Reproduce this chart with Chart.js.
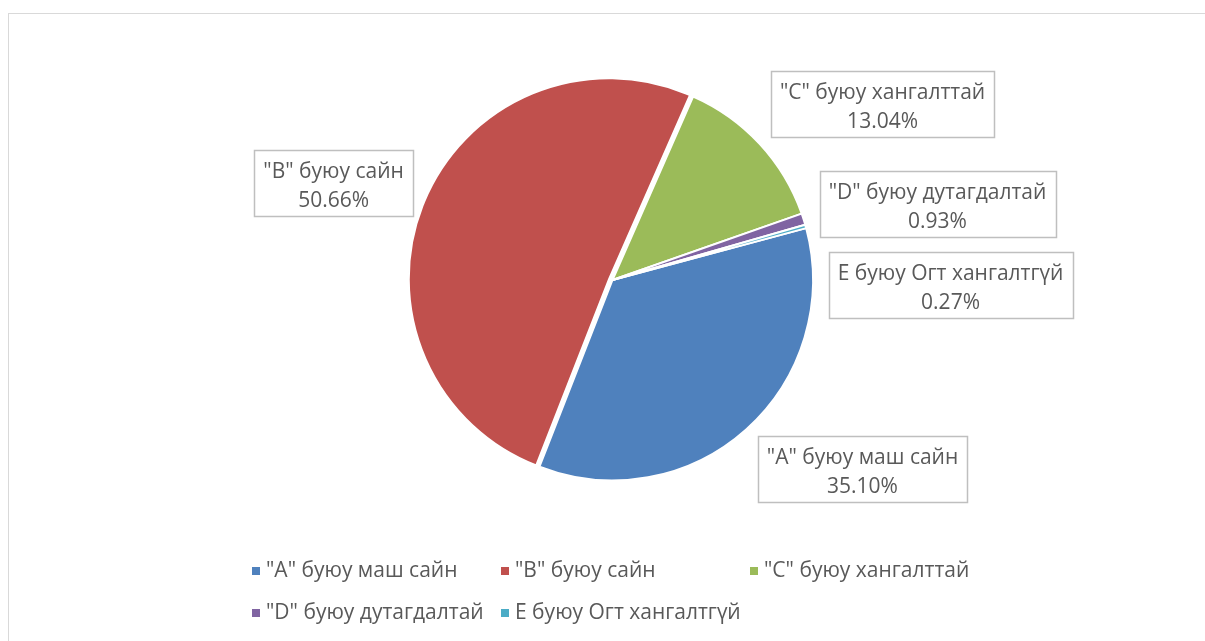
<!DOCTYPE html>
<html>
<head>
<meta charset="utf-8">
<script src="https://cdn.jsdelivr.net/npm/chart.js@4.4.0/dist/chart.umd.min.js"></script>
<style>
  body { margin:0; background:#fff; }
  #frame { position:absolute; left:8px; top:13px; width:1300px; height:700px; border:1px solid #d9d9d9; }
  #c { position:absolute; left:0; top:0; }
</style>
</head>
<body>
<div id="frame"></div>
<canvas id="c" width="1205" height="641"></canvas>
<script>
// data
const categories = ['"A" буюу маш сайн', '"B" буюу сайн', '"C" буюу хангалттай', '"D" буюу дутагдалтай', 'E буюу Огт хангалтгүй'];
const shares = [35.10, 50.66, 13.04, 0.93, 0.27];
const sliceColors = ['#4F81BD', '#C0504D', '#9BBB59', '#8064A2', '#4BACC6'];

// layout: label box centres relative to pie centre (in radii), exploded slice
const labelSpots = [[1.247, 0.945], [-1.391, -0.486], [1.347, -0.878], [1.621, -0.379], [1.686, 0.025]];
const explode = [0, 3.5, 0, 0, 0];
const FONT = '21px "Open Sans"';
const TEXT = '#595959';

// draw the arcs ourselves so one slice can be pulled out a bit
const explodePlugin = {
  id: 'explode',
  beforeDatasetDraw(chart, args) {
    const ctx = chart.ctx;
    args.meta.data.forEach((arc, i) => {
      const mid = (arc.startAngle + arc.endAngle) / 2;
      ctx.save();
      ctx.translate(Math.cos(mid) * explode[i], Math.sin(mid) * explode[i]);
      arc.draw(ctx);
      ctx.restore();
    });
    return false;
  }
};

// callout boxes with name + percent
const calloutPlugin = {
  id: 'callouts',
  afterDatasetsDraw(chart) {
    const ctx = chart.ctx;
    const meta = chart.getDatasetMeta(0);
    const vals = chart.data.datasets[0].data;
    const total = vals.reduce((a, b) => a + b, 0);
    ctx.save();
    ctx.font = FONT;
    ctx.textAlign = 'center';
    ctx.textBaseline = 'middle';
    meta.data.forEach((arc, i) => {
      const r = arc.outerRadius;
      const cx = arc.x + labelSpots[i][0] * r;
      const cy = arc.y + labelSpots[i][1] * r;
      const l1 = chart.data.labels[i];
      const l2 = (vals[i] / total * 100).toFixed(2) + '%';
      const w = Math.max(ctx.measureText(l1).width, ctx.measureText(l2).width) + 18;
      const h = 66;
      ctx.fillStyle = '#fff';
      ctx.fillRect(cx - w / 2, cy - h / 2, w, h);
      ctx.strokeStyle = '#bfbfbf';
      ctx.lineWidth = 1.5;
      ctx.strokeRect(Math.round(cx - w / 2) + 0.5, Math.round(cy - h / 2) + 0.5, Math.round(w), h);
      ctx.fillStyle = TEXT;
      ctx.fillText(l1, cx, cy - 11);
      ctx.fillText(l2, cx, cy + 18);
    });
    ctx.restore();
  }
};

// Excel-like legend: 3 columns, rows left aligned
const legendPlugin = {
  id: 'gridLegend',
  afterDraw(chart) {
    const ctx = chart.ctx;
    const left = 252, top = 571, colW = 249, rowH = 42;
    ctx.save();
    ctx.font = FONT;
    ctx.textBaseline = 'middle';
    ctx.textAlign = 'left';
    chart.data.labels.forEach((lab, i) => {
      const x = left + (i % 3) * colW;
      const y = top + Math.floor(i / 3) * rowH;
      ctx.fillStyle = chart.data.datasets[0].backgroundColor[i];
      ctx.fillRect(x, y - 4, 8, 8);
      ctx.fillStyle = TEXT;
      ctx.fillText(lab, x + 14, y);
    });
    ctx.restore();
  }
};

new Chart(document.getElementById('c'), {
  type: 'pie',
  data: {
    labels: categories,
    datasets: [{
      data: shares,
      backgroundColor: sliceColors,
      borderColor: '#ffffff',
      borderWidth: 2,
      radius: 200.5
    }]
  },
  options: {
    responsive: false,
    animation: false,
    devicePixelRatio: 1,
    rotation: 75,
    layout: { padding: { left: 200, right: 180, top: 70, bottom: 151 } },
    plugins: { legend: { display: false }, tooltip: { enabled: false } }
  },
  plugins: [explodePlugin, calloutPlugin, legendPlugin]
});
</script>
</body>
</html>
